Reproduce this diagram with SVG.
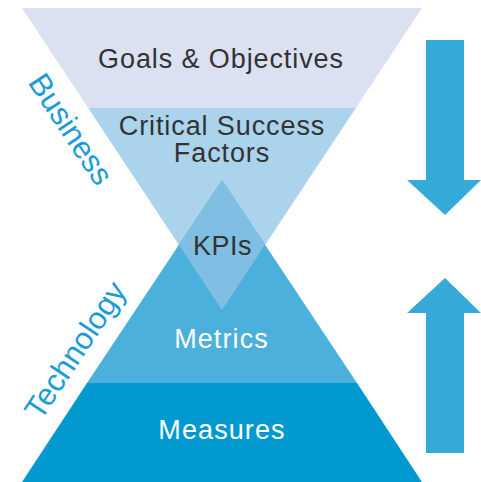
<svg xmlns="http://www.w3.org/2000/svg" width="481" height="482" viewBox="0 0 481 482">
<style>
.dark{font-family:"Liberation Sans",Arial,sans-serif;font-size:27px;fill:#333333;text-anchor:middle;letter-spacing:0.9px}
.light{font-family:"Liberation Sans",Arial,sans-serif;font-size:27px;fill:#ffffff;text-anchor:middle;letter-spacing:1.1px}
.side{font-family:"Liberation Sans",Arial,sans-serif;font-size:31px;fill:#1b9cd8;text-anchor:middle}
.arrow{fill:#35aad8}
</style>
<rect width="481" height="482" fill="#ffffff"/>
<g id="goals">
<polygon points="22,8 422,8 355.8,108 88.2,108" fill="#dbe1f1"/>
<text class="dark" x="221" y="68">Goals &amp; Objectives</text>
</g>
<g id="csf">
<polygon points="88.2,108 355.8,108 222,310" fill="#acd3ec"/>
<text class="dark"><tspan x="222" y="135">Critical Success</tspan><tspan x="222" y="162">Factors</tspan></text>
</g>
<g id="metrics">
<polygon points="222,180 357,383 87,383" fill="#4bb0dc"/>
<text class="light" x="221.5" y="348">Metrics</text>
</g>
<g id="measures">
<polygon points="87,383 357,383 422,482 22,482" fill="#0299d1"/>
<text class="light" x="222" y="439">Measures</text>
</g>
<g id="kpis">
<polygon points="222,180 265,245 222,310 179,245" fill="#80bfe3"/>
<text class="dark" x="222.5" y="255" style="letter-spacing:0.5px">KPIs</text>
</g>
<g id="business">
<text class="side" transform="translate(62,135) rotate(56.5)">Business</text>
</g>
<g id="technology">
<text class="side" transform="translate(84,356) rotate(-56.5)">Technology</text>
</g>
<g id="connectors">
<polygon class="arrow" points="426,40 464,40 464,180 481,180 445,215 407,180 426,180"/>
<polygon class="arrow" points="445,278 481,313 464,313 464,453 426,453 426,313 407,313"/>
</g>
</svg>
